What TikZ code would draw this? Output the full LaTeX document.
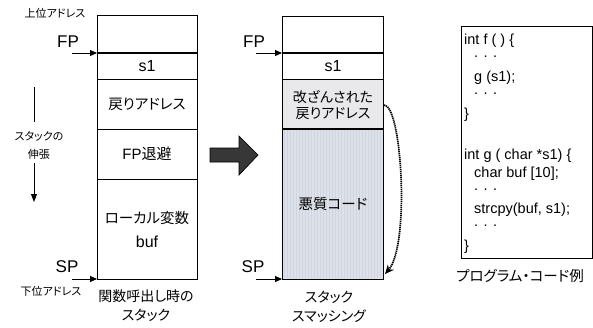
\documentclass[tikz,border=0pt]{standalone}
\usepackage{fontspec}
\setmainfont{Liberation Sans}
\newfontfamily\jp{Noto Sans CJK JP}[RawFeature=+palt]
\usetikzlibrary{arrows.meta}
\definecolor{tampered}{RGB}{233,233,235}
\definecolor{evil}{RGB}{221,225,233}
\definecolor{evilstripe}{RGB}{208,212,222}
\definecolor{bigarrow}{RGB}{55,55,55}
\begin{document}
\begin{tikzpicture}[x=1pt,y=-1pt,
  cellline/.style={draw=black,line width=0.9pt},
  fpline/.style={draw=black,line width=1.8pt},
  lbl/.style={inner sep=0pt,anchor=center},
  jpbox/.style={lbl,font=\jp\fontsize{14.5}{17}\selectfont,align=center},
  latbox/.style={lbl,font=\fontsize{16}{18}\selectfont},
  ptr/.style={lbl,font=\fontsize{17}{19}\selectfont},
  small/.style={lbl,font=\jp\fontsize{11}{13}\selectfont},
  caption/.style={lbl,font=\jp\fontsize{14}{19}\selectfont,align=center},
  code/.style={inner sep=0pt,anchor=west,font=\fontsize{14.5}{16}\selectfont},
  ptrarrow/.style={-{Triangle[length=7pt,width=6pt]},line width=0.9pt}
]
\useasboundingbox (0,0) rectangle (593,327);

% ---------- left stack ----------
\draw[cellline] (97,15) rectangle (197,279);
\draw[fpline] (97,53) -- (197,53);
\draw[cellline] (97,79) -- (197,79);
\draw[cellline] (97,129) -- (197,129);
\draw[cellline] (97,179) -- (197,179);
\node[latbox] (ls1) at (147,66) {s1};
\node[jpbox] (lret) at (147,104) {戻りアドレス};
\node[lbl,font=\fontsize{15}{17}\selectfont] (lfp) at (147,154) {FP{\jp 退避}};
\node[jpbox] (lloc) at (147,218) {ローカル変数};
\node[latbox] (lbuf) at (147,242) {buf};

\coordinate (lfptip) at (97,53);
\coordinate (lsptip) at (97,279);
\coordinate (lfpstart) at (72,53);
\coordinate (lspstart) at (72,279);
\node[ptr] (lfplbl) at (68,42) {FP};
\node[ptr] (lsplbl) at (67,267) {SP};
\draw[ptrarrow] (lfpstart) -- (lfptip);
\draw[ptrarrow] (lspstart) -- (lsptip);

\node[small] (hi) at (55,13) {上位アドレス};
\node[small] (lo) at (51,291) {下位アドレス};
\node[small,align=center,font=\jp\fontsize{11}{18}\selectfont] (grow) at (39,145) {スタックの\\伸張};
\coordinate (g1) at (34,87);
\coordinate (g2) at (34,122);
\coordinate (g3) at (34,163);
\coordinate (g4) at (34,202);
\draw[line width=0.9pt] (g1) -- (g2);
\draw[line width=0.9pt,-{Triangle[length=8pt,width=6pt]}] (g3) -- (g4);

\node[caption] (lcap) at (146,306) {関数呼出し時の\\スタック};

% ---------- big arrow ----------
\draw[fill=bigarrow,draw=black,line width=0.7pt]
  (210,148) -- (239,148) -- (239,136) -- (258,155) -- (239,175) -- (239,162) -- (210,162) -- cycle;

% ---------- right stack ----------
\fill[tampered] (282,79) rectangle (383,129);
\fill[evil] (282,129) rectangle (383,279);
\foreach \x in {284,287,...,382} {
  \draw[evilstripe,line width=0.6pt] (\x,130) -- (\x,278);
}
\draw[cellline] (282,16) rectangle (383,279);
\draw[fpline] (282,53) -- (383,53);
\draw[cellline] (282,79) -- (383,79);
\draw[line width=1.4pt] (282,129) -- (383,129);
\node[latbox] (rs1) at (333,66) {s1};
\node[jpbox,font=\jp\fontsize{14}{15.5}\selectfont] (rret) at (333,105) {改ざんされた\\戻りアドレス};
\node[jpbox] (rmal) at (333,204) {悪質コード};

\coordinate (rfptip) at (282,53);
\coordinate (rsptip) at (282,279);
\coordinate (rfpstart) at (256,53);
\coordinate (rspstart) at (256,279);
\node[ptr] (rfplbl) at (254,42) {FP};
\node[ptr] (rsplbl) at (253,267) {SP};
\draw[ptrarrow] (rfpstart) -- (rfptip);
\draw[ptrarrow] (rspstart) -- (rsptip);

\coordinate (jfrom) at (384,105);
\coordinate (jto) at (385,274);
\draw[dash pattern=on 1.3pt off 0.7pt,line width=1.7pt,-{Stealth[length=9pt,width=8pt]}]
  (jfrom) .. controls (402,105) and (410,245) .. (jto);

\node[caption] (rcap) at (329,307) {スタック\\スマッシング};

% ---------- code box ----------
\draw[line width=0.9pt] (461,26) rectangle (592,258);
\node[code] (c1) at (464,41) {int f ( ) \{};
\node[code] (c2) at (474,57) {. . .};
\node[code] (c3) at (474,78) {g (s1);};
\node[code] (c4) at (474,94) {. . .};
\node[code] (c5) at (464,115) {\}};
\node[code] (c6) at (464,156) {int g ( char *s1) \{};
\node[code] (c7) at (474,174) {char buf [10];};
\node[code] (c8) at (474,190) {. . .};
\node[code] (c9) at (474,210) {strcpy(buf, s1);};
\node[code] (c10) at (474,226) {. . .};
\node[code] (c11) at (464,247) {\}};
\node[lbl,font=\jp\fontsize{14.5}{16}\selectfont] (ccap) at (520,276) {プログラム・コード例};
\end{tikzpicture}
\end{document}
